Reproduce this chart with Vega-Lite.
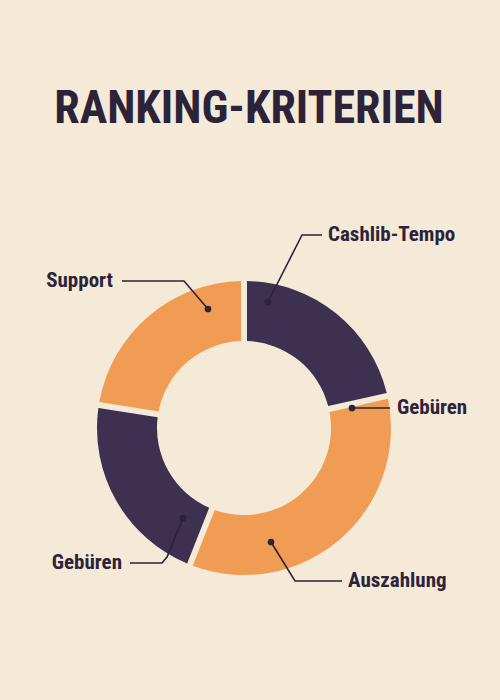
{
  "$schema": "https://vega.github.io/schema/vega-lite/v6.json",
  "width": 500,
  "height": 700,
  "autosize": "none",
  "padding": 0,
  "background": "#f4ead7",
  "config": {"view": {"stroke": null}},
  "datasets": {
    "segs": [
      {"criterion": "Cashlib-Tempo", "share": 21.5, "idx": 1, "tone": "dark"},
      {"criterion": "Auszahlung", "share": 34.5, "idx": 2, "tone": "orange"},
      {"criterion": "Gebüren", "share": 21.5, "idx": 3, "tone": "dark"},
      {"criterion": "Support", "share": 22.5, "idx": 4, "tone": "orange"}
    ],
    "leaders": [
      {"id": "c", "i": 1, "x": 2.4, "y": 12.6},
      {"id": "c", "i": 2, "x": 5.8, "y": 19.3},
      {"id": "c", "i": 3, "x": 7.8, "y": 19.3},
      {"id": "s", "i": 1, "x": -3.6, "y": 11.9},
      {"id": "s", "i": 2, "x": -6.0, "y": 14.7},
      {"id": "s", "i": 3, "x": -12.2, "y": 14.7},
      {"id": "gr", "i": 1, "x": 10.8, "y": 2.0},
      {"id": "gr", "i": 2, "x": 14.6, "y": 2.0},
      {"id": "a", "i": 1, "x": 2.7, "y": -11.4},
      {"id": "a", "i": 2, "x": 5.1, "y": -15.3},
      {"id": "a", "i": 3, "x": 9.8, "y": -15.3},
      {"id": "gl", "i": 1, "x": -6.1, "y": -9.0},
      {"id": "gl", "i": 2, "x": -7.7, "y": -12.9},
      {"id": "gl", "i": 3, "x": -8.2, "y": -13.5},
      {"id": "gl", "i": 4, "x": -11.4, "y": -13.5}
    ],
    "labels": [
      {"text": "Cashlib-Tempo", "side": "left", "x": 8.4, "y": 19.3},
      {"text": "Support", "side": "right", "x": -13.1, "y": 14.7},
      {"text": "Gebüren", "side": "left", "x": 15.3, "y": 2.0},
      {"text": "Auszahlung", "side": "left", "x": 10.4, "y": -15.3},
      {"text": "Gebüren", "side": "right", "x": -12.2, "y": -13.5}
    ],
    "title": [
      {"text": "RANKING-KRITERIEN", "x": 0.5, "y": 30.5}
    ]
  },
  "encoding": {
    "x": {"type": "quantitative", "scale": {"domain": [-24.4, 25.6], "nice": false, "zero": false}, "axis": null},
    "y": {"type": "quantitative", "scale": {"domain": [-27.2, 42.8], "nice": false, "zero": false}, "axis": null}
  },
  "layer": [
    {
      "data": {"name": "segs"},
      "mark": {"type": "arc", "innerRadius": 87, "outerRadius": 147, "padAngle": 0.035},
      "encoding": {
        "x": {"datum": 0, "type": "quantitative"},
        "y": {"datum": 0, "type": "quantitative"},
        "theta": {"field": "share", "type": "quantitative", "stack": true},
        "order": {"field": "idx", "type": "quantitative"},
        "color": {"field": "tone", "type": "nominal", "scale": {"domain": ["dark", "orange"], "range": ["#3e3050", "#f19c55"]}, "legend": null}
      }
    },
    {
      "data": {"name": "leaders"},
      "mark": {"type": "line", "color": "#2c2339", "strokeWidth": 1.6},
      "encoding": {
        "x": {"field": "x", "type": "quantitative"},
        "y": {"field": "y", "type": "quantitative"},
        "detail": {"field": "id"},
        "order": {"field": "i", "type": "quantitative"}
      }
    },
    {
      "data": {"name": "leaders"},
      "transform": [{"filter": "datum.i == 1"}],
      "mark": {"type": "point", "filled": true, "color": "#2c2339", "size": 45, "opacity": 1},
      "encoding": {
        "x": {"field": "x", "type": "quantitative"},
        "y": {"field": "y", "type": "quantitative"}
      }
    },
    {
      "data": {"name": "labels"},
      "transform": [{"filter": "datum.side == 'left'"}],
      "mark": {"type": "text", "align": "left", "baseline": "middle", "font": "Roboto Condensed, DejaVu Sans Condensed, Liberation Sans Narrow, sans-serif", "fontWeight": "bold", "fontSize": 21, "color": "#2c2339"},
      "encoding": {
        "x": {"field": "x", "type": "quantitative"},
        "y": {"field": "y", "type": "quantitative"},
        "text": {"field": "text"}
      }
    },
    {
      "data": {"name": "labels"},
      "transform": [{"filter": "datum.side == 'right'"}],
      "mark": {"type": "text", "align": "right", "baseline": "middle", "font": "Roboto Condensed, DejaVu Sans Condensed, Liberation Sans Narrow, sans-serif", "fontWeight": "bold", "fontSize": 21, "color": "#2c2339"},
      "encoding": {
        "x": {"field": "x", "type": "quantitative"},
        "y": {"field": "y", "type": "quantitative"},
        "text": {"field": "text"}
      }
    },
    {
      "data": {"name": "title"},
      "mark": {"type": "text", "align": "center", "baseline": "alphabetic", "font": "Roboto Condensed, DejaVu Sans Condensed, Liberation Sans Narrow, sans-serif", "fontWeight": "bold", "fontSize": 46, "color": "#2c2339"},
      "encoding": {
        "x": {"field": "x", "type": "quantitative"},
        "y": {"field": "y", "type": "quantitative"},
        "text": {"field": "text"}
      }
    }
  ]
}
